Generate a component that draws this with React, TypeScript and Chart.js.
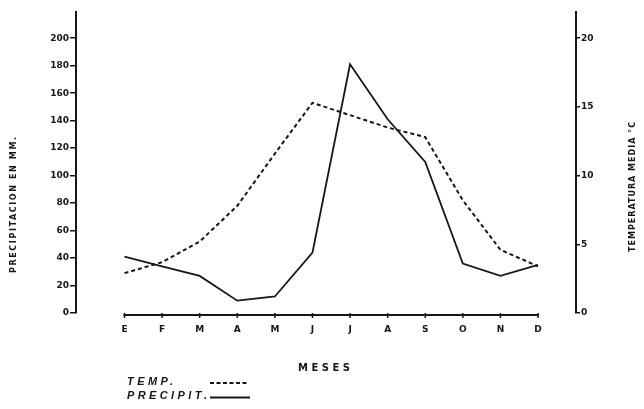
import React, { useEffect, useRef } from "react";
import { Chart, registerables } from "chart.js";

Chart.register(...registerables);

const months = ["E", "F", "M", "A", "M", "J", "J", "A", "S", "O", "N", "D"];
const precipitation = [41, 34, 27, 9, 12, 44, 181, 141, 110, 36, 27, 35];
const temperature = [2.9, 3.7, 5.2, 7.8, 11.6, 15.3, 14.4, 13.5, 12.8, 8.2, 4.6, 3.4];
const precipTicks = [0, 20, 40, 60, 80, 100, 120, 140, 160, 180, 200];
const tempTicks = [0, 5, 10, 15, 20];

const INK = "#161616";

function spacedText(ctx: CanvasRenderingContext2D, text: string, x: number, y: number, target: number, align: "left" | "center") {
  (ctx as any).letterSpacing = "0px";
  const w = ctx.measureText(text).width;
  const ls = Math.max(0, (target - w) / Math.max(1, text.length - 1));
  (ctx as any).letterSpacing = ls + "px";
  ctx.textAlign = "left";
  const sx = align === "center" ? x - target / 2 : x;
  ctx.fillText(text, sx, y);
  (ctx as any).letterSpacing = "0px";
}

const decor = {
  id: "decor",
  afterDraw(chart: any) {
    const ctx: CanvasRenderingContext2D = chart.ctx;
    const xs = chart.scales.x;
    ctx.save();
    ctx.strokeStyle = INK;
    ctx.fillStyle = INK;
    // x axis line from E to D with small ticks
    const x0 = xs.getPixelForValue(0);
    const x1 = xs.getPixelForValue(months.length - 1);
    const ya = 315;
    ctx.lineWidth = 2;
    ctx.beginPath();
    ctx.moveTo(x0 - 1, ya);
    ctx.lineTo(x1 + 1, ya);
    ctx.stroke();
    ctx.lineWidth = 1.5;
    months.forEach((_, i) => {
      const px = xs.getPixelForValue(i);
      ctx.beginPath();
      ctx.moveTo(px, ya - 2);
      ctx.lineTo(px, ya + 3);
      ctx.stroke();
    });

    ctx.textBaseline = "middle";
    // left title
    ctx.font = "bold 8px 'DejaVu Sans'";
    ctx.save();
    ctx.translate(14, 205);
    ctx.rotate(-Math.PI / 2);
    spacedText(ctx, "PRECIPITACION EN MM.", 0, 0, 136, "center");
    ctx.restore();
    // right title
    ctx.save();
    ctx.translate(633, 187);
    ctx.rotate(-Math.PI / 2);
    spacedText(ctx, "TEMPERATURA MEDIA °C", 0, 0, 130, "center");
    ctx.restore();

    // x title
    ctx.font = "bold 10px 'DejaVu Sans'";
    spacedText(ctx, "MESES", 324, 368, 52, "center");

    // legend
    ctx.font = "italic bold 11px 'Liberation Sans'";
    spacedText(ctx, "TEMP.", 127, 382, 46, "left");
    spacedText(ctx, "PRECIPIT.", 127, 396, 80, "left");
    ctx.lineWidth = 2;
    ctx.setLineDash([4, 2.5]);
    ctx.beginPath();
    ctx.moveTo(210, 383);
    ctx.lineTo(249, 383);
    ctx.stroke();
    ctx.setLineDash([]);
    ctx.beginPath();
    ctx.moveTo(210, 397.5);
    ctx.lineTo(250, 397.5);
    ctx.stroke();
    ctx.restore();
  },
};

export default function App() {
  const ref = useRef<HTMLCanvasElement | null>(null);

  useEffect(() => {
    if (!ref.current) return;
    const tickFont = { family: "'DejaVu Sans'", size: 9, weight: "bold" as const };
    const chart = new Chart(ref.current, {
      type: "line",
      data: {
        datasets: [
          {
            label: "PRECIPIT.",
            data: precipitation.map((v, i) => ({ x: i, y: v })),
            yAxisID: "y",
            borderColor: INK,
            borderWidth: 1.8,
            pointRadius: 0,
            tension: 0,
            fill: false,
          },
          {
            label: "TEMP.",
            data: temperature.map((v, i) => ({ x: i, y: v })),
            yAxisID: "y2",
            borderColor: INK,
            borderWidth: 2,
            borderDash: [4, 3],
            pointRadius: 0,
            tension: 0,
            fill: false,
          },
        ],
      },
      options: {
        responsive: false,
        animation: false,
        devicePixelRatio: 1,
        layout: { padding: { top: 12, left: 0, right: 0, bottom: 0 } },
        plugins: { legend: { display: false }, tooltip: { enabled: false }, title: { display: false } },
        scales: {
          x: {
            type: "linear",
            min: -1.29,
            max: 12.01,
            afterBuildTicks: (s: any) => {
              s.ticks = months.map((_, i) => ({ value: i }));
            },
            afterFit: (s: any) => {
              s.height = 96;
            },
            ticks: {
              callback: (v: any) => months[v as number] ?? "",
              font: tickFont,
              color: INK,
              padding: 11,
              autoSkip: false,
              maxRotation: 0,
            },
            grid: { display: false, drawTicks: false },
            border: { display: false },
          },
          y: {
            type: "linear",
            position: "left",
            min: 0,
            max: 219.1,
            afterBuildTicks: (s: any) => {
              s.ticks = precipTicks.map((v) => ({ value: v }));
            },
            afterFit: (s: any) => {
              s.width = 76;
            },
            ticks: { font: tickFont, color: INK, padding: 1 },
            grid: { drawOnChartArea: false, drawTicks: true, tickLength: 6, color: INK, lineWidth: 1.5 },
            border: { display: true, color: INK, width: 2 },
          },
          y2: {
            type: "linear",
            position: "right",
            min: 0,
            max: 21.91,
            afterBuildTicks: (s: any) => {
              s.ticks = tempTicks.map((v) => ({ value: v }));
            },
            afterFit: (s: any) => {
              s.width = 68;
            },
            ticks: { font: tickFont, color: INK, padding: 1 },
            grid: { drawOnChartArea: false, drawTicks: true, tickLength: 4, color: INK, lineWidth: 1.5 },
            border: { display: true, color: INK, width: 2 },
          },
        },
      },
      plugins: [decor],
    });
    return () => chart.destroy();
  }, []);

  return (
    <div style={{ position: "absolute", left: 0, top: 0, width: 644, height: 409, background: "#fff" }}>
      <canvas ref={ref} width={644} height={409} style={{ display: "block", width: 644, height: 409 }} />
    </div>
  );
}
